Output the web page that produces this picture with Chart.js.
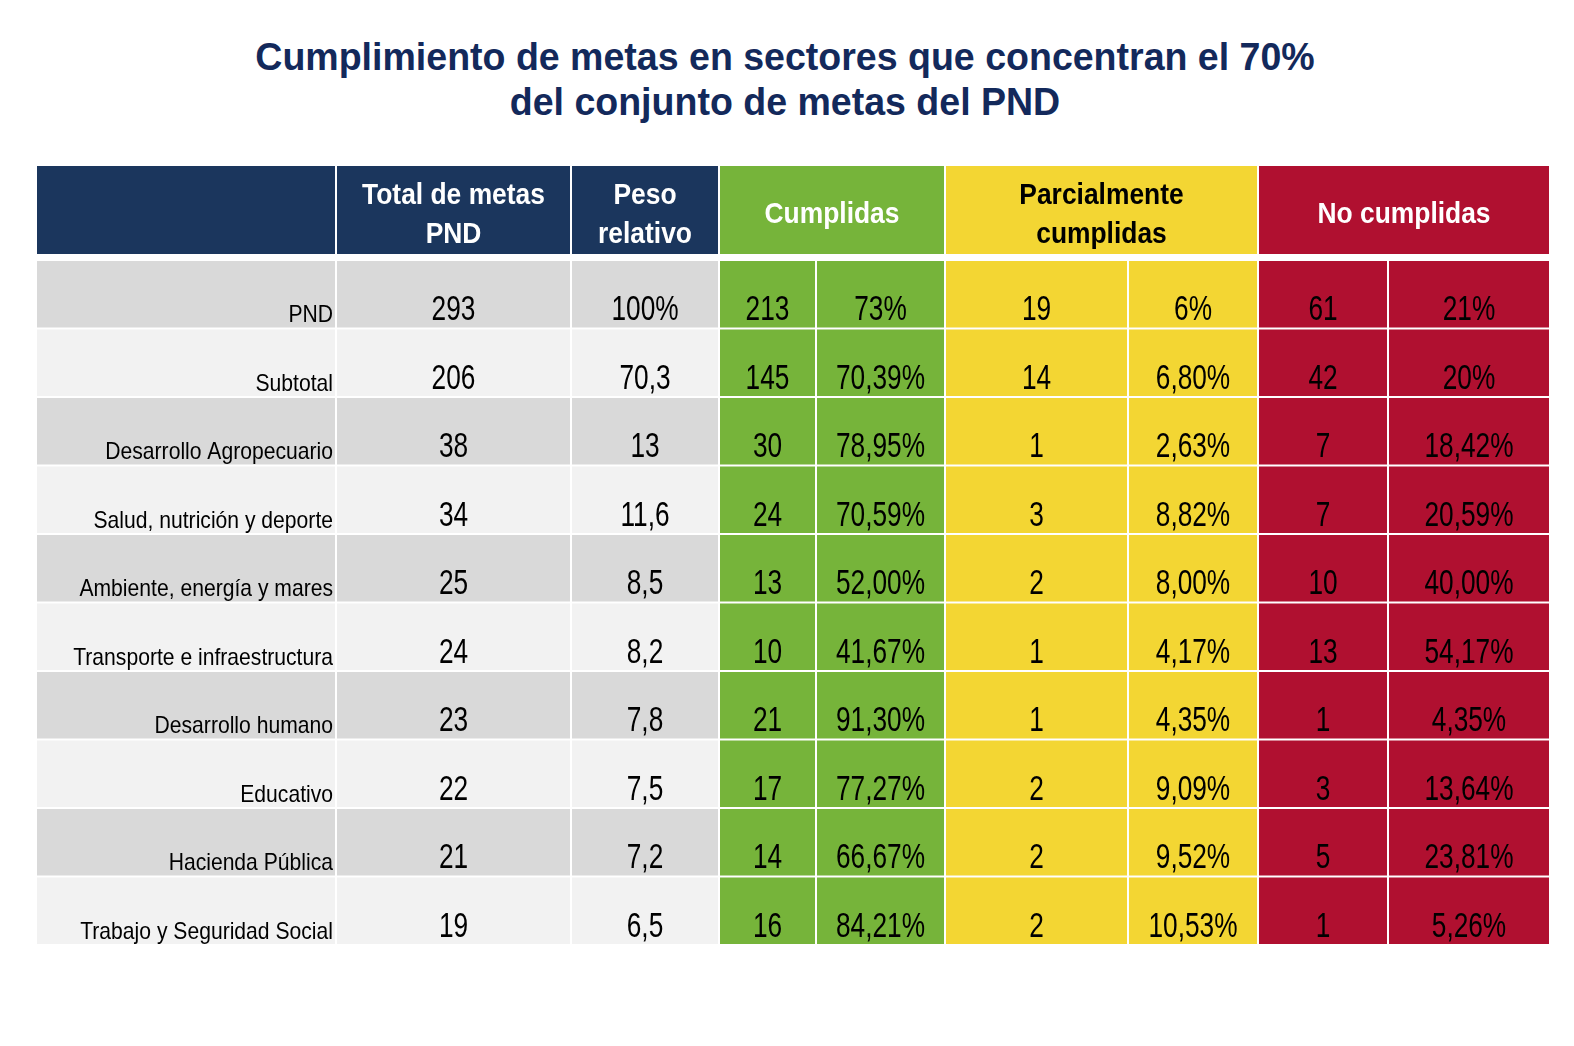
<!DOCTYPE html>
<html>
<meta charset="UTF-8">
<head>
    <title>Cumplimiento de metas PND</title>
    <script src="https://cdn.jsdelivr.net/npm/chart.js"></script>
    <style>
        body { margin: 0; background: #fff; }
        #titulo {
            position: absolute; left: 0; top: 34px; width: 1570px;
            text-align: center; color: #13295b;
            font: bold 39.5px "Liberation Sans", Arial, sans-serif; line-height: 45px;
            transform: scaleX(0.95);
        }
        #cabecera { position: absolute; left: 36px; top: 165px; width: 1514px; height: 90px; }
        #cuerpo { position: absolute; left: 36px; top: 260px; width: 1514px; height: 685px; }
    </style>
</head>
<body>
<div id="titulo">Cumplimiento de metas en sectores que concentran el 70%<br>del conjunto de metas del PND</div>
<div id="cabecera"><canvas id="chartCabecera"></canvas></div>
<div id="cuerpo"><canvas id="chartCuerpo"></canvas></div>

<script>
    // Datos de la tabla
    const sectores = ['PND', 'Subtotal', 'Desarrollo Agropecuario', 'Salud, nutrición y deporte',
        'Ambiente, energía y mares', 'Transporte e infraestructura', 'Desarrollo humano',
        'Educativo', 'Hacienda Pública', 'Trabajo y Seguridad Social'];
    const totalMetas = [293, 206, 38, 34, 25, 24, 23, 22, 21, 19];
    const pesoRelativo = ['100%', '70,3', '13', '11,6', '8,5', '8,2', '7,8', '7,5', '7,2', '6,5'];
    const cumplidas = [213, 145, 30, 24, 13, 10, 21, 17, 14, 16];
    const cumplidasPct = ['73%', '70,39%', '78,95%', '70,59%', '52,00%', '41,67%', '91,30%', '77,27%', '66,67%', '84,21%'];
    const parciales = [19, 14, 1, 3, 2, 1, 1, 2, 2, 2];
    const parcialesPct = ['6%', '6,80%', '2,63%', '8,82%', '8,00%', '4,17%', '4,35%', '9,09%', '9,52%', '10,53%'];
    const noCumplidas = [61, 42, 7, 7, 10, 13, 1, 3, 5, 1];
    const noCumplidasPct = ['21%', '20%', '18,42%', '20,59%', '40,00%', '54,17%', '4,35%', '13,64%', '23,81%', '5,26%'];
    const encabezados = [[''], ['Total de metas', 'PND'], ['Peso', 'relativo'], ['Cumplidas'],
        ['Parcialmente', 'cumplidas'], ['No cumplidas']];

    // Diseño (anchos de columnas en px)
    const anchosCabecera = [300, 235, 148, 226, 313, 292];
    const anchosCuerpo = [300, 235, 148, 97, 129, 183, 130, 130, 162];
    const AZUL = '#1b365d', VERDE = '#76b43a', AMARILLO = '#f3d633', ROJO = '#b01030';
    const GRIS1 = '#d9d9d9', GRIS2 = '#f2f2f2';
    // no hay Arial Narrow: se comprime Liberation Sans en horizontal
    const FUENTE = '"Liberation Sans", Arial, sans-serif';

    function dibujarTexto(ctx, texto, x, y, align, size, bold, color, escala) {
        ctx.save();
        ctx.font = (bold ? 'bold ' : '') + size + 'px ' + FUENTE;
        ctx.fillStyle = color;
        ctx.textBaseline = 'alphabetic';
        ctx.textAlign = align;
        ctx.translate(x, y);
        ctx.scale(escala, 1);
        ctx.fillText(texto, 0, 0);
        ctx.restore();
    }

    // Plugin para escribir el texto de cada celda
    const textoCeldas = {
        id: 'textoCeldas',
        afterDatasetsDraw(chart) {
            const ctx = chart.ctx;
            chart.data.datasets.forEach((ds, i) => {
                chart.getDatasetMeta(i).data.forEach((bar, j) => {
                    const p = bar.getProps(['x', 'base', 'y', 'height'], true);
                    const top = p.y - p.height / 2, bottom = p.y + p.height / 2;
                    if (ds.tipo === 'cabecera') {
                        const lineas = ds.textos[j];
                        const cx = (p.x + p.base) / 2;
                        if (lineas.length === 2) {
                            dibujarTexto(ctx, lineas[0], cx, top + 39, 'center', 30, true, ds.colorTexto, 0.88);
                            dibujarTexto(ctx, lineas[1], cx, top + 78, 'center', 30, true, ds.colorTexto, 0.88);
                        } else if (lineas[0]) {
                            dibujarTexto(ctx, lineas[0], cx, top + 58, 'center', 30, true, ds.colorTexto, 0.88);
                        }
                    } else if (ds.tipo === 'etiqueta') {
                        dibujarTexto(ctx, ds.textos[j], p.x - 3, bottom - 6.5, 'right', 24, false, '#000', 0.88);
                    } else {
                        dibujarTexto(ctx, String(ds.textos[j]), (p.x + p.base) / 2, bottom - 8.5, 'center', 35, false, '#000', 0.75);
                    }
                });
            });
        }
    };

    const opciones = (total) => ({
        indexAxis: 'y',
        responsive: true,
        maintainAspectRatio: false,
        animation: false,
        layout: { padding: 0 },
        plugins: { legend: { display: false }, tooltip: { enabled: false } },
        scales: {
            x: { stacked: true, display: false, min: 0, max: total },
            y: { stacked: true, display: false }
        }
    });

    const estiloBarra = {
        borderColor: '#ffffff',
        borderWidth: 1,
        borderSkipped: false,
        inflateAmount: 0,
        barPercentage: 1,
        categoryPercentage: 1
    };

    // Cabecera
    const coloresCabecera = [AZUL, AZUL, AZUL, VERDE, AMARILLO, ROJO];
    const textoCabecera = ['#fff', '#fff', '#fff', '#fff', '#000', '#fff'];
    new Chart(document.getElementById('chartCabecera'), {
        type: 'bar',
        data: {
            labels: ['encabezado'],
            datasets: encabezados.map((e, i) => Object.assign({
                data: [anchosCabecera[i]],
                backgroundColor: coloresCabecera[i],
                tipo: 'cabecera',
                textos: [e],
                colorTexto: textoCabecera[i]
            }, estiloBarra))
        },
        options: opciones(anchosCabecera.reduce((a, b) => a + b, 0)),
        plugins: [textoCeldas]
    });

    // Cuerpo de la tabla
    const gris = sectores.map((s, j) => j % 2 === 0 ? GRIS1 : GRIS2);
    const columnas = [
        { textos: sectores, color: gris, tipo: 'etiqueta' },
        { textos: totalMetas, color: gris },
        { textos: pesoRelativo, color: gris },
        { textos: cumplidas, color: VERDE },
        { textos: cumplidasPct, color: VERDE },
        { textos: parciales, color: AMARILLO },
        { textos: parcialesPct, color: AMARILLO },
        { textos: noCumplidas, color: ROJO },
        { textos: noCumplidasPct, color: ROJO }
    ];
    new Chart(document.getElementById('chartCuerpo'), {
        type: 'bar',
        data: {
            labels: sectores,
            datasets: columnas.map((c, i) => Object.assign({
                data: sectores.map(() => anchosCuerpo[i]),
                backgroundColor: c.color,
                tipo: c.tipo || 'valor',
                textos: c.textos
            }, estiloBarra))
        },
        options: opciones(anchosCuerpo.reduce((a, b) => a + b, 0)),
        plugins: [textoCeldas]
    });
</script>
</body>
</html>
